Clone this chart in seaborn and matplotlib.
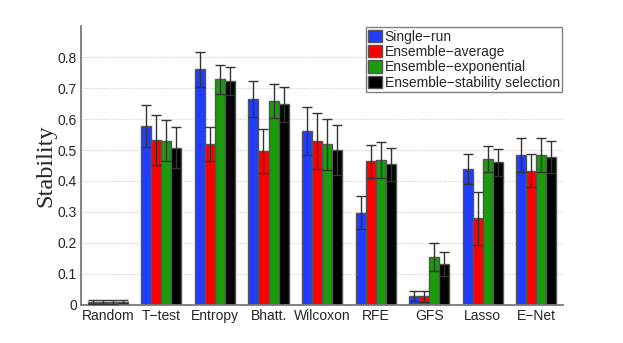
import numpy as np
import pandas as pd
import matplotlib
matplotlib.use("Agg")
import matplotlib.pyplot as plt
import seaborn as sns

# Data
methods = ["Random", "T\u2212test", "Entropy", "Bhatt.", "Wilcoxon", "RFE", "GFS", "Lasso", "E\u2212Net"]
schemes = ["Single\u2212run", "Ensemble\u2212average", "Ensemble\u2212exponential",
           "Ensemble\u2212stability selection"]

single_run = [0.010, 0.578, 0.760, 0.664, 0.561, 0.298, 0.030, 0.439, 0.484]
ens_average = [0.010, 0.533, 0.520, 0.497, 0.529, 0.463, 0.028, 0.279, 0.433]
ens_expon = [0.010, 0.530, 0.728, 0.659, 0.518, 0.467, 0.155, 0.471, 0.484]
ens_stab = [0.011, 0.508, 0.723, 0.647, 0.500, 0.454, 0.133, 0.460, 0.478]

err_single = [0.006, 0.067, 0.056, 0.058, 0.077, 0.052, 0.016, 0.048, 0.056]
err_average = [0.006, 0.080, 0.055, 0.072, 0.089, 0.052, 0.017, 0.085, 0.053]
err_expon = [0.006, 0.067, 0.047, 0.055, 0.082, 0.058, 0.046, 0.042, 0.056]
err_stab = [0.006, 0.065, 0.046, 0.056, 0.081, 0.054, 0.039, 0.044, 0.051]

colors = ["#1f3cff", "#ff0000", "#1a9c0c", "#000000"]

values = [single_run, ens_average, ens_expon, ens_stab]
errors = [err_single, err_average, err_expon, err_stab]

rows = []
for s, vals, errs in zip(schemes, values, errors):
    for m, v, e in zip(methods, vals, errs):
        rows.append({"Method": m, "Scheme": s, "Stability": v, "Err": e})
df = pd.DataFrame(rows)

sns.set_style("white")
plt.rcParams["font.family"] = ["Liberation Sans", "DejaVu Sans"]

fig = plt.figure(figsize=(6.23, 3.43), dpi=100)
ax = fig.add_axes([0.130, 0.111, 0.774, 0.813])

sns.barplot(data=df, x="Method", y="Stability", hue="Scheme", order=methods,
            hue_order=schemes, palette=colors, saturation=1, width=0.75, errorbar=None,
            edgecolor="#555555", linewidth=1.0, ax=ax, zorder=2)

# error bars placed on the bar centres seaborn produced
for s, patches in zip(schemes, ax.containers):
    sub = df[df["Scheme"] == s].set_index("Method").loc[methods]
    xs = [p.get_x() + p.get_width() / 2 for p in patches]
    ax.errorbar(xs, sub["Stability"], yerr=sub["Err"], fmt="none",
                ecolor="#333333", elinewidth=1.0, capsize=3.5, capthick=1.0, zorder=3)

ax.set_xlim(-0.5, len(methods) - 0.5)
ax.set_ylim(0, 0.9)
ax.set_yticks(np.arange(0, 0.81, 0.1))
ax.set_yticklabels(["0"] + [f"{t:.1f}" for t in np.arange(0.1, 0.81, 0.1)])
ax.yaxis.grid(True, linestyle=(0, (1, 1.5)), color="#c8c8c8", linewidth=0.8)
ax.set_axisbelow(True)
ax.tick_params(axis="both", labelsize=10, length=0, pad=3)
ax.set_xlabel("")
ax.set_ylabel("Stability", fontsize=17.5, family=["Liberation Serif", "DejaVu Serif"],
              labelpad=1)

for side in ["top", "right"]:
    ax.spines[side].set_visible(False)
for side in ["left", "bottom"]:
    ax.spines[side].set_color("#7a7a7a")
    ax.spines[side].set_linewidth(1.3)

leg = ax.legend(loc="upper right", bbox_to_anchor=(1.0, 1.0), fontsize=10,
                frameon=True, fancybox=False, framealpha=1, edgecolor="#808080",
                handlelength=1.0, handleheight=1.0, handletextpad=0.2,
                borderpad=0.15, labelspacing=0.1, borderaxespad=0.1)
leg.get_frame().set_linewidth(1.0)

fig.savefig("out.png", dpi=100)
